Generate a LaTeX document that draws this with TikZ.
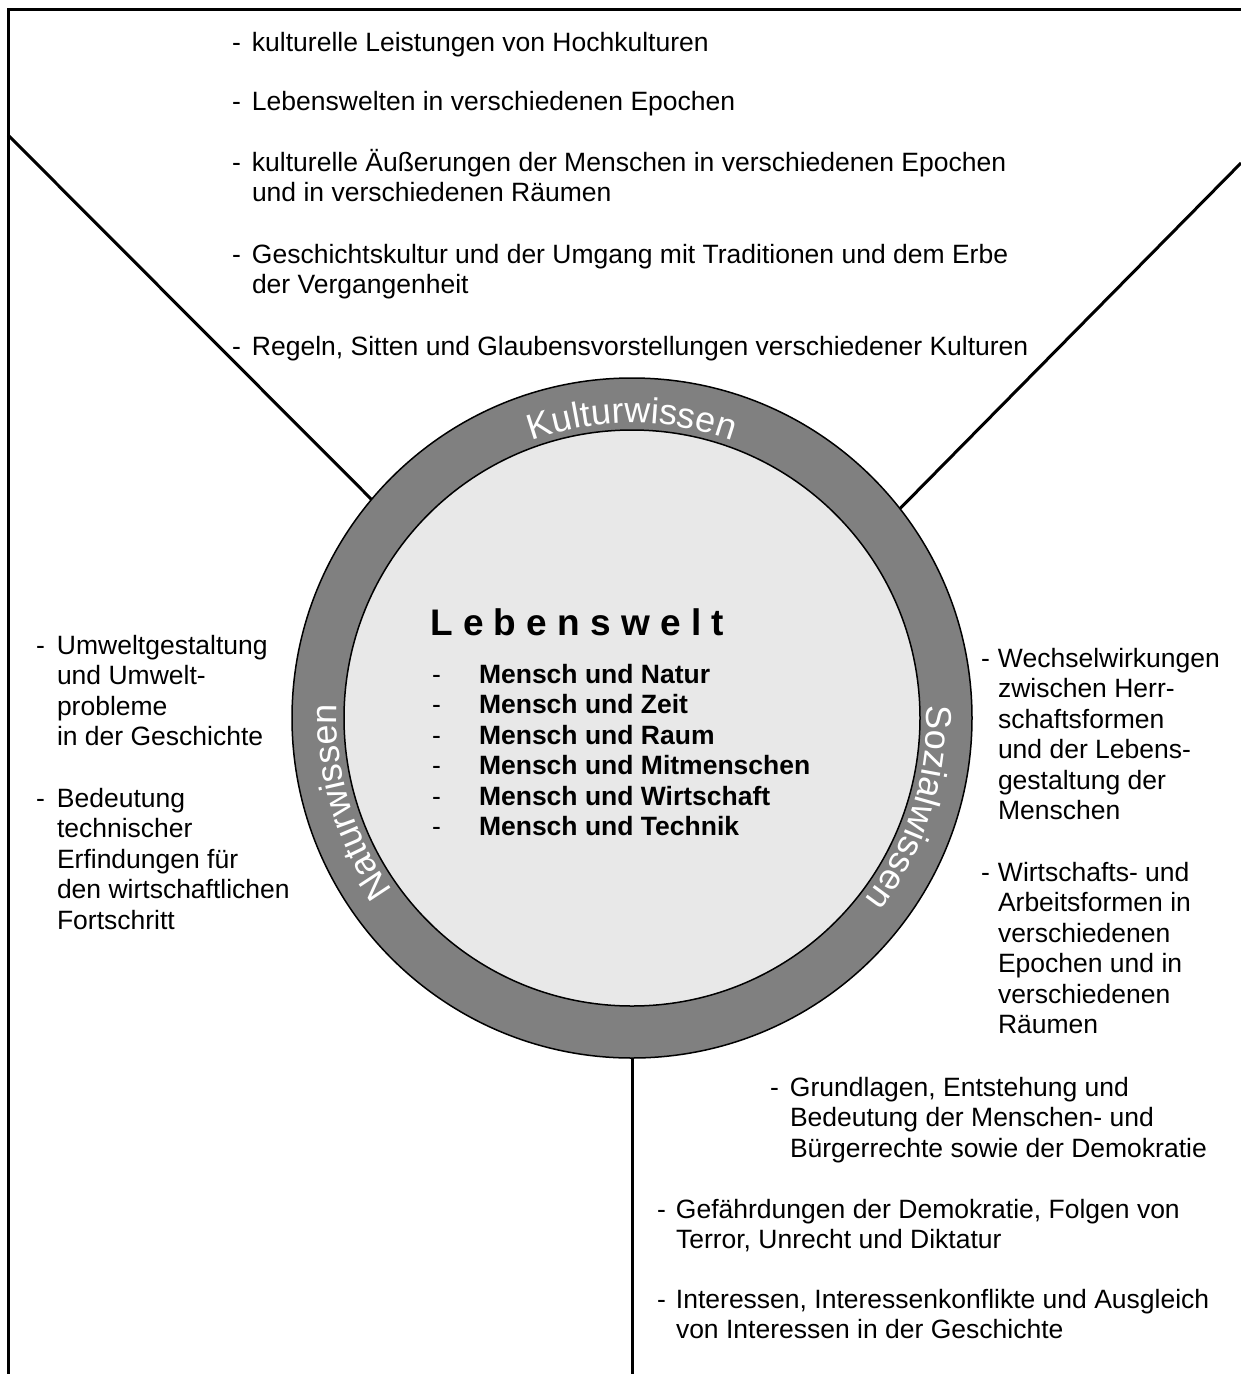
\documentclass[tikz,border=0pt]{standalone}
\usepackage{fontspec}
\setmainfont{Liberation Sans}
\usetikzlibrary{decorations.text}
\definecolor{ringgray}{HTML}{808080}
\definecolor{innergray}{HTML}{E8E8E8}
\newcommand\ringfont{\fontsize{36}{36}\selectfont}
\newcommand\dashitem[2]{\makebox[#1][l]{-}\begin{tabular}[t]{@{}l@{}}#2\end{tabular}}
\tikzset{
  txt/.style={font=\fontsize{26.5}{30.5}\selectfont, inner sep=0pt, outer sep=0pt, anchor=base west},
  frameline/.style={line width=3pt},
  ringtext/.style={decorate, decoration={text along path, text align=center, text={#1}}}
}
\begin{document}
\begin{tikzpicture}[x=1pt,y=1pt]
\useasboundingbox (0,0) rectangle (1241,-1374);
% frame
\coordinate (fbl) at (8.5,-1374);
\coordinate (ftl) at (8.5,-9);
\coordinate (ftr) at (1241,-9);
\draw[frameline] (fbl) -- (ftl) -- (ftr);
% circle
\node[circle, draw, line width=1.5pt, fill=ringgray, minimum size=680pt, inner sep=0pt, outer sep=0pt] (outer) at (632,-718) {};
\node[circle, draw, line width=1.5pt, fill=innergray, minimum size=576pt, inner sep=0pt, outer sep=0pt] (inner) at (outer.center) {};
% connectors
\coordinate (dl) at (8,-135);
\coordinate (dr) at (1241,-163);
\coordinate (vb) at (632,-1374);
\draw[frameline] (dl) -- (outer.140.25);
\draw[frameline] (dr) -- (outer.38.9);
\draw[frameline] (outer.south) -- (vb);
% ring texts
\path[ringtext={|\ringfont\color{white}|Kulturwissen}] (outer.center) ++(150:295) arc[start angle=150, end angle=30, radius=295];
\path[ringtext={|\ringfont\color{white}|Naturwissen}] (outer.center) ++(256.6:295) arc[start angle=256.6, end angle=136.6, radius=295];
\path[ringtext={|\ringfont\color{white}|Sozialwissen}] (outer.center) ++(42.2:295) arc[start angle=42.2, end angle=-77.8, radius=295];
% centre
\node[font=\bfseries\fontsize{37}{40}\selectfont, inner sep=0pt, anchor=base west] (title) at (430,-635) {L e b e n s w e l t};
\node[txt] (list) at (432,-683) {\begin{tabular}[t]{@{}p{47pt}@{}l@{}}
- & \textbf{Mensch und Natur}\\
- & \textbf{Mensch und Zeit}\\
- & \textbf{Mensch und Raum}\\
- & \textbf{Mensch und Mitmenschen}\\
- & \textbf{Mensch und Wirtschaft}\\
- & \textbf{Mensch und Technik}
\end{tabular}};
% Kulturwissen block
\node[txt] (k1) at (232,-51) {\dashitem{20pt}{kulturelle Leistungen von Hochkulturen}};
\node[txt] (k2) at (232,-110) {\dashitem{20pt}{Lebenswelten in verschiedenen Epochen}};
\node[txt] (k3) at (232,-171) {\dashitem{20pt}{kulturelle Äußerungen der Menschen in verschiedenen Epochen\\und in verschiedenen Räumen}};
\node[txt] (k4) at (232,-263) {\dashitem{20pt}{Geschichtskultur und der Umgang mit Traditionen und dem Erbe\\der Vergangenheit}};
\node[txt] (k5) at (232,-355) {\dashitem{20pt}{Regeln, Sitten und Glaubensvorstellungen verschiedener Kulturen}};
% Naturwissen block
\node[txt] (n1) at (36,-654) {\dashitem{21pt}{Umweltgestaltung\\und Umwelt-\\probleme\\in der Geschichte}};
\node[txt] (n2) at (36,-807) {\dashitem{21pt}{Bedeutung\\technischer\\Erfindungen für\\den wirtschaftlichen\\Fortschritt}};
% Sozialwissen block
\node[txt] (s1) at (981,-667) {\dashitem{17pt}{Wechselwirkungen\\zwischen Herr-\\schaftsformen\\und der Lebens-\\gestaltung der\\Menschen}};
\node[txt] (s2) at (981,-881) {\dashitem{17pt}{Wirtschafts- und\\Arbeitsformen in\\verschiedenen\\Epochen und in\\verschiedenen\\Räumen}};
% bottom block
\node[txt] (b1) at (770,-1096) {\dashitem{20pt}{Grundlagen, Entstehung und\\Bedeutung der Menschen- und\\Bürgerrechte sowie der Demokratie}};
\node[txt] (b2) at (657,-1218) {\dashitem{19pt}{Gefährdungen der Demokratie, Folgen von\\Terror, Unrecht und Diktatur}};
\node[txt] (b3) at (657,-1308) {\dashitem{19pt}{Interessen, Interessenkonflikte und Ausgleich\\von Interessen in der Geschichte}};
\end{tikzpicture}
\end{document}
